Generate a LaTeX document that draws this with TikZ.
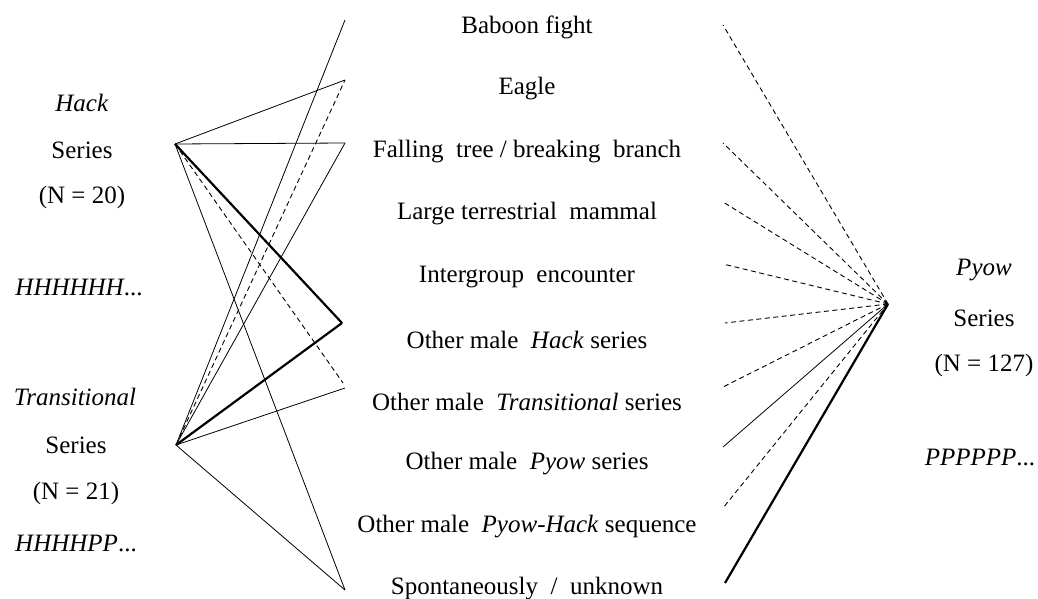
\documentclass[tikz,border=0pt]{standalone}
\usepackage{fontspec}
\setmainfont{Liberation Serif}
\begin{document}
\begin{tikzpicture}[x=1pt,y=-1pt,
  lbl/.style={inner sep=0pt,anchor=center,font=\fontsize{25}{29}\selectfont},
  thin/.style={line width=0.8pt},
  thick2/.style={line width=2.2pt},
  dsh/.style={line width=0.9pt,dash pattern=on 5pt off 3.5pt}]
\useasboundingbox (0,0) rectangle (1038,599);
% hubs
\coordinate (H) at (175,144);
\coordinate (T) at (176,445);
\coordinate (P) at (888,304);
% left endpoints
\coordinate (lb) at (345,20);
\coordinate (le) at (345,80);
\coordinate (lf) at (345,143);
\coordinate (lh) at (342,323);
\coordinate (lt1) at (343,383);
\coordinate (lt2) at (345,388);
\coordinate (ls) at (345,590);
% right endpoints
\coordinate (rb) at (723,25);
\coordinate (rf) at (723,143);
\coordinate (rl) at (723,202);
\coordinate (ri) at (723,264);
\coordinate (rh) at (725,323);
\coordinate (rt) at (723,387);
\coordinate (rp) at (723,447);
\coordinate (rph) at (723,508);
\coordinate (rs) at (725,583);
% left labels
\node[lbl] (hack) at (82,103) {\textit{Hack}};
\node[lbl] (hser) at (82,150) {Series};
\node[lbl] (hn) at (82,197) {(N = 20)};
\node[lbl] (hseq) at (79,287) {\textit{HHHHHH}...};
\node[lbl] (trans) at (75,397) {\textit{Transitional}};
\node[lbl] (tser) at (76,445) {Series};
\node[lbl] (tn) at (76,493) {(N = 21)};
\node[lbl] (tseq) at (76,543) {\textit{HHHHPP}...};
% right labels
\node[lbl] (pyow) at (984,270) {\textit{Pyow}};
\node[lbl] (pser) at (984,318) {Series};
\node[lbl] (pn) at (984,365) {(N = 127)};
\node[lbl] (pseq) at (980,457) {\textit{PPPPPP}...};
% middle labels
\node[lbl] (m1) at (527,27) {Baboon fight};
\node[lbl] (m2) at (527,89) {Eagle};
\node[lbl] (m3) at (527,152) {Falling\ \ tree / breaking\ \ branch};
\node[lbl] (m4) at (527,214) {Large terrestrial\ \ mammal};
\node[lbl] (m5) at (527,277) {Intergroup\ \ encounter};
\node[lbl] (m6) at (527,340) {Other male\ \ \textit{Hack} series};
\node[lbl] (m7) at (527,402) {Other male\ \ \textit{Transitional} series};
\node[lbl] (m8) at (527,464) {Other male\ \ \textit{Pyow} series};
\node[lbl] (m9) at (527,527) {Other male\ \ \textit{Pyow-Hack} sequence};
\node[lbl] (m10) at (527,589) {Spontaneously\ \ /\ \ unknown};
% Hack series connectors
\draw[thin] (H) -- (le);
\draw[thin] (H) -- (lf);
\draw[thick2] (H) -- (lh);
\draw[dsh] (H) -- (lt1);
\draw[thin] (H) -- (ls);
% Transitional series connectors
\draw[thin] (T) -- (lb);
\draw[dsh] (T) -- (le);
\draw[thin] (T) -- (lf);
\draw[thick2] (T) -- (lh);
\draw[thin] (T) -- (lt2);
\draw[thin] (T) -- (ls);
% Pyow series connectors
\draw[dsh] (P) -- (rb);
\draw[dsh] (P) -- (rf);
\draw[dsh] (P) -- (rl);
\draw[dsh] (P) -- (ri);
\draw[dsh] (P) -- (rh);
\draw[dsh] (P) -- (rt);
\draw[thin] (P) -- (rp);
\draw[dsh] (P) -- (rph);
\draw[thick2] (P) -- (rs);
\end{tikzpicture}
\end{document}
